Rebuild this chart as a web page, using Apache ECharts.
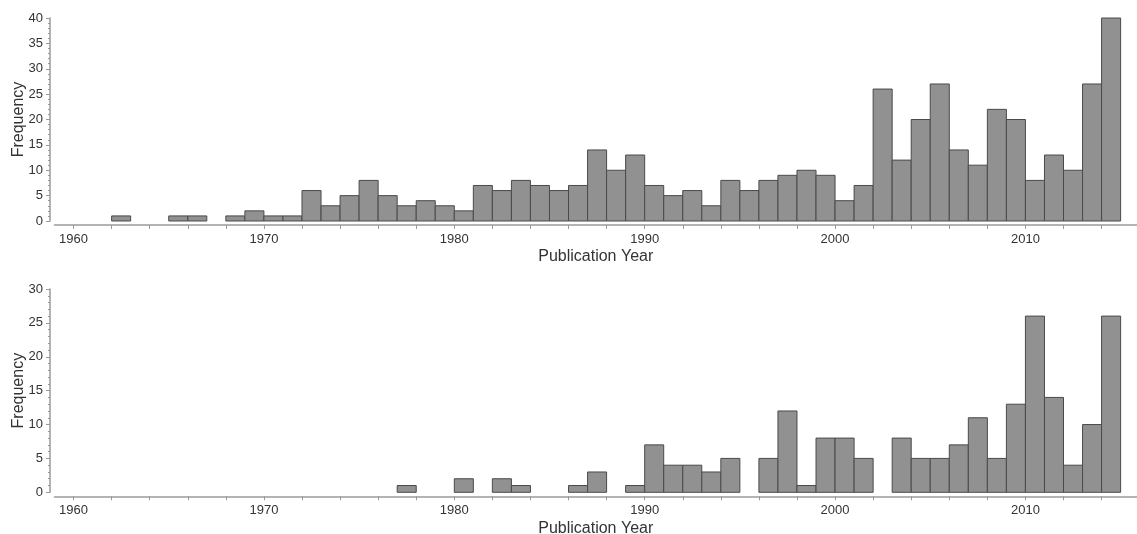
<!DOCTYPE html>
<html>
<head>
<meta charset="utf-8">
<title>Publication Year Histograms</title>
<script src="https://cdn.jsdelivr.net/npm/echarts@6/dist/echarts.min.js"></script>
<style>
  html, body { margin: 0; padding: 0; background: #ffffff; }
  #chart { width: 1137px; height: 534px; }
</style>
</head>
<body>
<div id="chart"></div>
<script>
// One-year bins, each bar spans [year, year + 1)
const years = [
  1960, 1961, 1962, 1963, 1964, 1965, 1966, 1967, 1968, 1969,
  1970, 1971, 1972, 1973, 1974, 1975, 1976, 1977, 1978, 1979,
  1980, 1981, 1982, 1983, 1984, 1985, 1986, 1987, 1988, 1989,
  1990, 1991, 1992, 1993, 1994, 1995, 1996, 1997, 1998, 1999,
  2000, 2001, 2002, 2003, 2004, 2005, 2006, 2007, 2008, 2009,
  2010, 2011, 2012, 2013, 2014
];

// Upper panel frequencies
const upperCounts = [
  0, 0, 1, 0, 0, 1, 1, 0, 1, 2,
  1, 1, 6, 3, 5, 8, 5, 3, 4, 3,
  2, 7, 6, 8, 7, 6, 7, 14, 10, 13,
  7, 5, 6, 3, 8, 6, 8, 9, 10, 9,
  4, 7, 26, 12, 20, 27, 14, 11, 22, 20,
  8, 13, 10, 27, 40
];

// Lower panel frequencies
const lowerCounts = [
  0, 0, 0, 0, 0, 0, 0, 0, 0, 0,
  0, 0, 0, 0, 0, 0, 0, 1, 0, 0,
  2, 0, 2, 1, 0, 0, 1, 3, 0, 1,
  7, 4, 4, 3, 5, 0, 5, 12, 1, 8,
  8, 5, 0, 8, 5, 5, 7, 11, 5, 13,
  26, 14, 4, 10, 26
];

// Axis ticks and labels
const yearTicks = [
  1960, 1962, 1964, 1966, 1968, 1970, 1972, 1974, 1976, 1978,
  1980, 1982, 1984, 1986, 1988, 1990, 1992, 1994, 1996, 1998,
  2000, 2002, 2004, 2006, 2008, 2010, 2012, 2014
];
const yearLabels = [1960, 1970, 1980, 1990, 2000, 2010];
const upperMax = 40;
const lowerMax = 30;
const freqStep = 5;

const xTitle = 'Publication Year';
const yTitle = 'Frequency';

const FONT = '"Liberation Sans", Arial, sans-serif';
const AXIS_GREY = '#9a9a9a';
const TEXT = '#333333';
const BAR_FILL = '#909190';
const BAR_EDGE = '#4a4a4a';

function binsFor(counts) {
  const out = [];
  for (let i = 0; i < years.length; i++) {
    if (counts[i] > 0) out.push([years[i], counts[i]]);
  }
  return out;
}

function renderBin(params, api) {
  const start = api.value(0);
  const base = api.coord([start, 0]);
  const top = api.coord([start + 1, api.value(1)]);
  return {
    type: 'rect',
    shape: {
      x: base[0],
      y: top[1],
      width: top[0] - base[0],
      height: base[1] - top[1]
    },
    style: { fill: BAR_FILL, stroke: BAR_EDGE, lineWidth: 1 }
  };
}

function xAxisFor(gridIndex) {
  return {
    type: 'value',
    gridIndex: gridIndex,
    min: 1959,
    max: 2015.86,
    offset: 4,
    name: xTitle,
    nameLocation: 'middle',
    nameGap: 24,
    nameMoveOverlap: false,
    nameTextStyle: { fontFamily: FONT, fontSize: 16, color: TEXT },
    axisLine: { show: true, onZero: false, lineStyle: { color: AXIS_GREY, width: 1.5 } },
    axisTick: { show: true, customValues: yearTicks, length: 4, lineStyle: { color: AXIS_GREY } },
    axisLabel: {
      customValues: yearLabels,
      margin: 8,
      fontFamily: FONT,
      fontSize: 13,
      color: TEXT,
      formatter: v => String(v)
    },
    splitLine: { show: false }
  };
}

function yAxisFor(gridIndex, maxValue) {
  return {
    type: 'value',
    gridIndex: gridIndex,
    min: 0,
    max: maxValue,
    interval: freqStep,
    offset: 4.5,
    name: yTitle,
    nameLocation: 'middle',
    nameGap: 23,
    nameMoveOverlap: false,
    nameTextStyle: { fontFamily: FONT, fontSize: 16, color: TEXT },
    axisLine: { show: true, lineStyle: { color: AXIS_GREY, width: 1.5 } },
    axisTick: { show: true, length: 4, lineStyle: { color: AXIS_GREY } },
    minorTick: { show: true, splitNumber: 5, length: 2, lineStyle: { color: AXIS_GREY } },
    axisLabel: { margin: 7, fontFamily: FONT, fontSize: 13, color: TEXT },
    splitLine: { show: false },
    minorSplitLine: { show: false }
  };
}

const chart = echarts.init(document.getElementById('chart'), null, { renderer: 'canvas' });

chart.setOption({
  animation: false,
  backgroundColor: '#ffffff',
  grid: [
    { left: 54.5, right: 0, top: 18, height: 203, outerBoundsMode: 'none', containLabel: false },
    { left: 54.5, right: 0, top: 289, height: 203.3, outerBoundsMode: 'none', containLabel: false }
  ],
  xAxis: [xAxisFor(0), xAxisFor(1)],
  yAxis: [yAxisFor(0, upperMax), yAxisFor(1, lowerMax)],
  series: [
    {
      type: 'custom',
      xAxisIndex: 0,
      yAxisIndex: 0,
      renderItem: renderBin,
      encode: { x: 0, y: 1 },
      data: binsFor(upperCounts)
    },
    {
      type: 'custom',
      xAxisIndex: 1,
      yAxisIndex: 1,
      renderItem: renderBin,
      encode: { x: 0, y: 1 },
      data: binsFor(lowerCounts)
    }
  ]
});
</script>
</body>
</html>
